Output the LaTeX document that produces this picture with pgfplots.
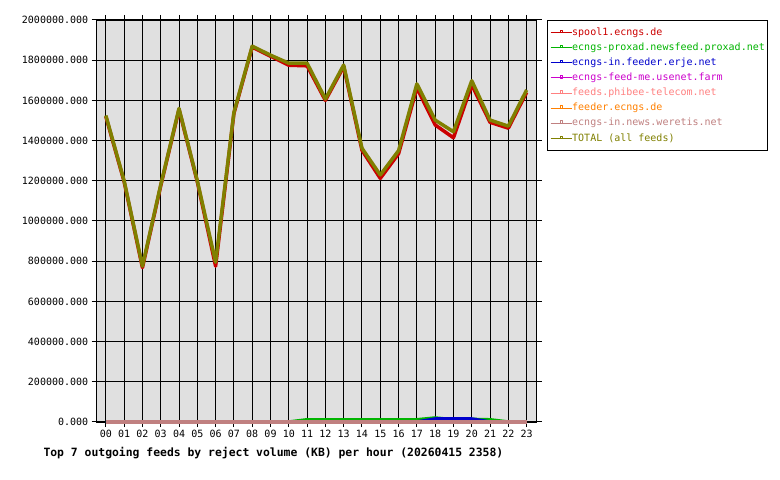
\documentclass[border=0pt]{standalone}
\usepackage{pgfplots}
\pgfplotsset{compat=1.18}
\usepackage{fontspec}
\setmonofont{DejaVu Sans Mono}
\definecolor{bgc}{RGB}{224,224,224}
\definecolor{cSpool}{RGB}{204,0,0}
\definecolor{cProxad}{RGB}{0,180,0}
\definecolor{cErje}{RGB}{0,0,204}
\definecolor{cFeedme}{RGB}{204,0,204}
\definecolor{cPhibee}{RGB}{255,128,128}
\definecolor{cFeeder}{RGB}{255,128,0}
\definecolor{cWeretis}{RGB}{192,128,128}
\definecolor{cTotal}{RGB}{128,128,0}
\begin{document}
\begin{tikzpicture}
\useasboundingbox (0,0) rectangle (780bp,480bp);
\begin{axis}[
  at={(96.7bp,58bp)}, anchor=south west,
  scale only axis, width=440bp, height=402bp,
  xmin=-0.5, xmax=23.55, ymin=0, ymax=2000000,
  axis background/.style={fill=bgc},
  axis line style={black, line width=1.2bp},
  grid=major, major grid style={black, line width=1bp},
  xtick={0,1,2,3,4,5,6,7,8,9,10,11,12,13,14,15,16,17,18,19,20,21,22,23},
  xticklabels={00,01,02,03,04,05,06,07,08,09,10,11,12,13,14,15,16,17,18,19,20,21,22,23},
  ytick={0,200000,400000,600000,800000,1000000,1200000,1400000,1600000,1800000,2000000},
  yticklabels={0.000,200000.000,400000.000,600000.000,800000.000,1000000.000,1200000.000,1400000.000,1600000.000,1800000.000,2000000.000},
  scaled y ticks=false,
  tick align=outside, major tick length=5bp,
  tick style={black, line width=1bp},
  ticklabel style={font=\ttfamily\fontsize{10bp}{12bp}\selectfont},
  clip=false,
  every axis plot/.append style={line join=round},
  legend cell align=left,
  legend image code/.code={
    \draw[line width=1bp] (0bp,0bp) -- (21bp,0bp);
    \draw[line width=0.7bp] (9.3bp,0bp) rectangle (11.8bp,2.4bp);
  },
  legend style={at={(1,1)}, anchor=north west, xshift=10bp,
    draw=black, line width=1bp, fill=white,
    font=\ttfamily\fontsize{10bp}{12bp}\selectfont,
    inner xsep=3bp, inner ysep=6.9bp, row sep=4.6bp,
    nodes={inner sep=0pt, text height=8bp, text depth=2.5bp}},
]
\addplot[cSpool, line width=3.5bp] coordinates {
 (0,1520000) (1,1195000) (2,768000) (3,1175000) (4,1555000) (5,1195000)
 (6,775000) (7,1535000) (8,1865000) (9,1820000) (10,1775000) (11,1772000)
 (12,1600000) (13,1768000) (14,1352000) (15,1212000) (16,1335000) (17,1662000)
 (18,1478000) (19,1414000) (20,1677000) (21,1491000) (22,1462000) (23,1640000)};
\addlegendentry{\textcolor{cSpool}{spool1.ecngs.de}}
\addplot[cProxad, line width=3.5bp] coordinates {
 (0,0) (1,0) (2,0) (3,0) (4,0) (5,0) (6,0) (7,0) (8,0) (9,0) (10,0) (11,11000)
 (12,11000) (13,11000) (14,11000) (15,11000) (16,11000) (17,11000)
 (18,20000) (19,11000) (20,13000) (21,11000) (22,0) (23,0)};
\addlegendentry{\textcolor{cProxad}{ecngs-proxad.newsfeed.proxad.net}}
\addplot[cErje, line width=3.5bp] coordinates {
 (0,0) (1,0) (2,0) (3,0) (4,0) (5,0) (6,0) (7,0) (8,0) (9,0) (10,0) (11,0)
 (12,0) (13,0) (14,0) (15,0) (16,0) (17,0)
 (18,15000) (19,15000) (20,15000) (21,0) (22,0) (23,0)};
\addlegendentry{\textcolor{cErje}{ecngs-in.feeder.erje.net}}
\addplot[cFeedme, line width=3.5bp] coordinates {
 (0,0) (1,0) (2,0) (3,0) (4,0) (5,0) (6,0) (7,0) (8,0) (9,0) (10,0) (11,0)
 (12,0) (13,0) (14,0) (15,0) (16,0) (17,0) (18,0) (19,0) (20,0) (21,0) (22,0) (23,0)};
\addlegendentry{\textcolor{cFeedme}{ecngs-feed-me.usenet.farm}}
\addplot[cPhibee, line width=3.5bp] coordinates {
 (0,0) (1,0) (2,0) (3,0) (4,0) (5,0) (6,0) (7,0) (8,0) (9,0) (10,0) (11,0)
 (12,0) (13,0) (14,0) (15,0) (16,0) (17,0) (18,0) (19,0) (20,0) (21,0) (22,0) (23,0)};
\addlegendentry{\textcolor{cPhibee}{feeds.phibee-telecom.net}}
\addplot[cFeeder, line width=3.5bp] coordinates {
 (0,0) (1,0) (2,0) (3,0) (4,0) (5,0) (6,0) (7,0) (8,0) (9,0) (10,0) (11,0)
 (12,0) (13,0) (14,0) (15,0) (16,0) (17,0) (18,0) (19,0) (20,0) (21,0) (22,0) (23,0)};
\addlegendentry{\textcolor{cFeeder}{feeder.ecngs.de}}
\addplot[cWeretis, line width=3.5bp] coordinates {
 (0,0) (1,0) (2,0) (3,0) (4,0) (5,0) (6,0) (7,0) (8,0) (9,0) (10,0) (11,0)
 (12,0) (13,0) (14,0) (15,0) (16,0) (17,0) (18,0) (19,0) (20,0) (21,0) (22,0) (23,0)};
\addlegendentry{\textcolor{cWeretis}{ecngs-in.news.weretis.net}}
\addplot[cTotal, line width=3.5bp] coordinates {
 (0,1525000) (1,1200000) (2,775000) (3,1180000) (4,1560000) (5,1200000)
 (6,795000) (7,1540000) (8,1870000) (9,1825000) (10,1785000) (11,1785000)
 (12,1607000) (13,1776000) (14,1362000) (15,1229000) (16,1350000) (17,1682000)
 (18,1502000) (19,1444000) (20,1698000) (21,1502000) (22,1472000) (23,1652000)};
\addlegendentry{\textcolor{cTotal}{TOTAL (all feeds)}}
\end{axis}
\node[anchor=base west, inner sep=0pt, font=\ttfamily\bfseries\fontsize{11.4bp}{13bp}\selectfont] at (43.3bp,24bp) {Top 7 outgoing feeds by reject volume (KB) per hour (20260415 2358)};
\end{tikzpicture}
\end{document}
